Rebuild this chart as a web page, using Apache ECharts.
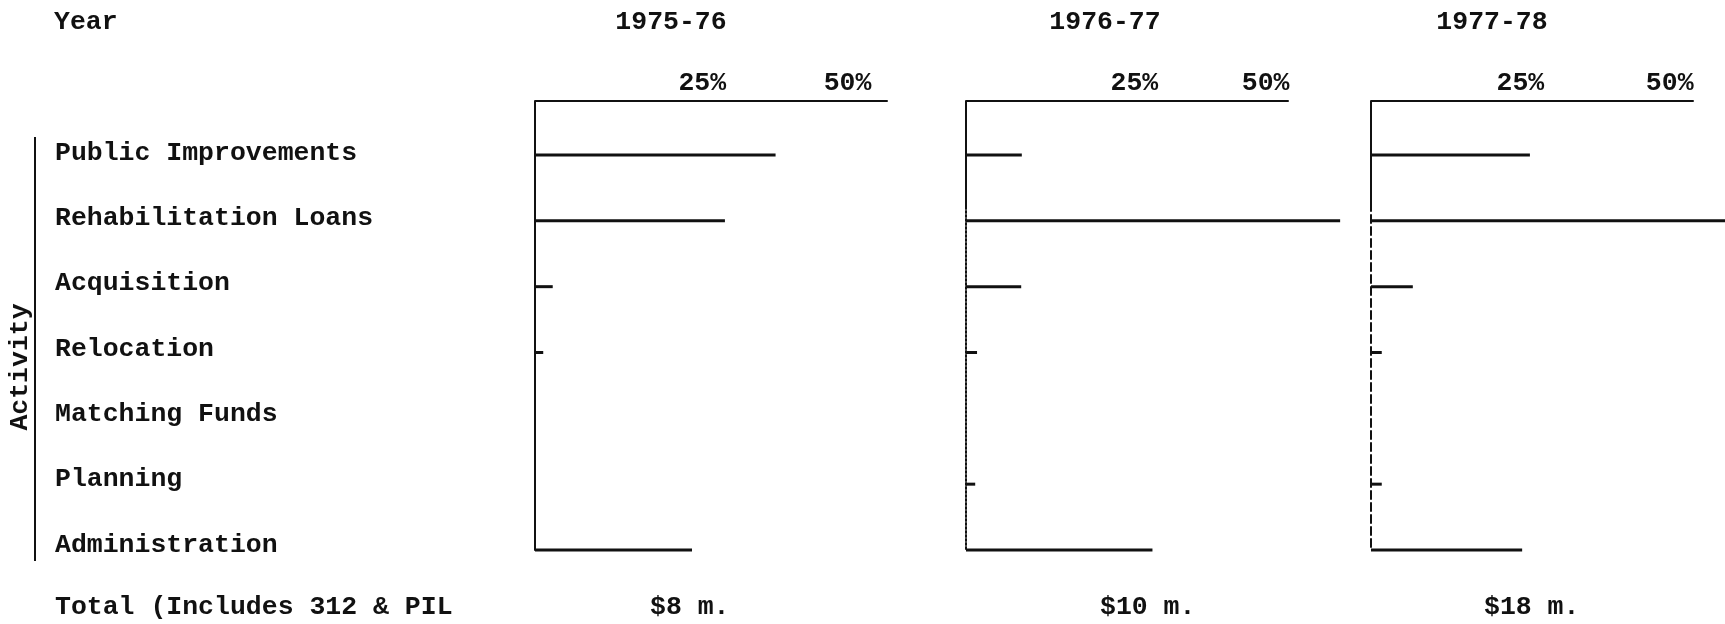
<!DOCTYPE html>
<html>
<head>
<meta charset="utf-8">
<title>Activity share by year</title>
<script src="https://cdn.jsdelivr.net/npm/echarts@6/dist/echarts.min.js"></script>
<style>
	html, body {margin:0; padding:0; background:#fff;}
	#activity-chart {width:1725px; height:624px;}
</style>
</head>
<body>
<div id="activity-chart"></div>
<script>
var activities = ['Public Improvements','Rehabilitation Loans','Acquisition','Relocation','Matching Funds','Planning','Administration'];
var years = ['1975-76','1976-77','1977-78'];
var totals = ['$8 m.','$10 m.','$18 m.'];
var tickValues = [25, 50];

// share of funds per activity, in percent
var share1975 = [38, 30, 2.8, 1.3, 0, 0, 24.8];
var share1976 = [9.1, 61, 9, 1.8, 0, 1.5, 30.4];
var share1977 = [26.6, 60, 7, 1.8, 0, 1.8, 25.3];

function activityChart(){
	var chart = echarts.init(document.getElementById('activity-chart'));
	var font = 'Liberation Mono';
	var fontSize = 26.5;
	var shares = [share1975, share1976, share1977];

	// panel layout (pixels) and axis end per panel
	var panelLeft = [535, 966, 1371];
	var panelWidth = [352, 322, 322];
	var panelMax = [55.6, 52.5, 53.9];
	var yLineType = ['solid', 'dotted', 'dashed'];
	// the typed tick labels sit a little off the ticks
	var labelShift = [[9, -4], [15, -7], [0, 0]];
	var yearX = [671, 1105, 1492];
	var totalX = [650, 1100, 1484];

	var grids = [{left: 35, top: 153, width: 420, height: 392}];
	var xAxes = [{gridIndex: 0, type: 'value', show: false}];
	var yAxes = [{
		gridIndex: 0,
		type: 'category',
		data: activities,
		inverse: true,
		boundaryGap: false,
		name: 'Activity',
		nameLocation: 'middle',
		nameRotate: 90,
		nameGap: 1,
		nameTextStyle: {fontFamily: font, fontSize: fontSize, fontWeight: 'bold', color: '#111', padding: [0, 36, 0, 0]},
		axisLine: {
			lineStyle: {color: '#111', width: 2},
			symbol: ['rect', 'rect'],
			symbolSize: [2, 32]
		},
		axisTick: {show: false},
		axisLabel: {inside: true, margin: 20, fontFamily: font, fontSize: fontSize, fontWeight: 'bold', color: '#111'}
	}];
	var series = [];

	function shiftStyle(dx){
		return {
			fontFamily: font, fontSize: fontSize, fontWeight: 'bold', color: '#111',
			padding: dx >= 0 ? [0, 0, 0, 2 * dx] : [0, -2 * dx, 0, 0]
		};
	}

	for (var i = 0; i < 3; i++) {
		grids.push({left: panelLeft[i], top: 155, width: panelWidth[i], height: 395});
		xAxes.push({
			gridIndex: i + 1,
			type: 'value',
			position: 'top',
			offset: 54,
			min: 0,
			max: panelMax[i],
			interval: 25,
			splitLine: {show: false},
			axisTick: {show: false},
			axisLine: {show: true, lineStyle: {color: '#111', width: 2}},
			axisLabel: {
				margin: 4,
				fontFamily: font,
				fontSize: fontSize,
				fontWeight: 'bold',
				color: '#111',
				rich: {
					a: shiftStyle(labelShift[i][0]),
					b: shiftStyle(labelShift[i][1])
				},
				formatter: function (value) {
					var k = tickValues.indexOf(value);
					if (k < 0) return '';
					return '{' + (k === 0 ? 'a' : 'b') + '|' + value + '%}';
				}
			}
		});
		yAxes.push({
			gridIndex: i + 1,
			type: 'category',
			data: activities,
			inverse: true,
			boundaryGap: false,
			axisTick: {show: false},
			axisLabel: {show: false},
			axisLine: {
				show: true,
				lineStyle: {color: '#111', width: 2, type: yLineType[i]},
				symbol: ['none', 'rect'],
				symbolSize: [2, 108]
			}
		});
		series.push({
			name: years[i],
			type: 'bar',
			xAxisIndex: i + 1,
			yAxisIndex: i + 1,
			data: shares[i],
			barWidth: 3,
			clip: false,
			silent: true,
			itemStyle: {color: '#111'}
		});
	}

	var textStyle = function (text, align) {
		return {text: text, fontFamily: font, fontSize: fontSize, fontWeight: 'bold', fill: '#111', align: align, verticalAlign: 'middle'};
	};
	var texts = [
		{type: 'text', x: 54, y: 22, style: textStyle('Year', 'left')},
		{type: 'text', x: 55, y: 607, style: textStyle('Total (Includes 312 & PIL', 'left')}
	];
	for (var j = 0; j < years.length; j++) {
		texts.push({type: 'text', x: yearX[j], y: 22, style: textStyle(years[j], 'center')});
		texts.push({type: 'text', x: totalX[j], y: 607, style: textStyle(totals[j], 'left')});
	}

	var option = {
		backgroundColor: '#fff',
		animation: false,
		grid: grids,
		xAxis: xAxes,
		yAxis: yAxes,
		series: series,
		graphic: texts
	};

	chart.setOption(option);
}

activityChart();
</script>
</body>
</html>
